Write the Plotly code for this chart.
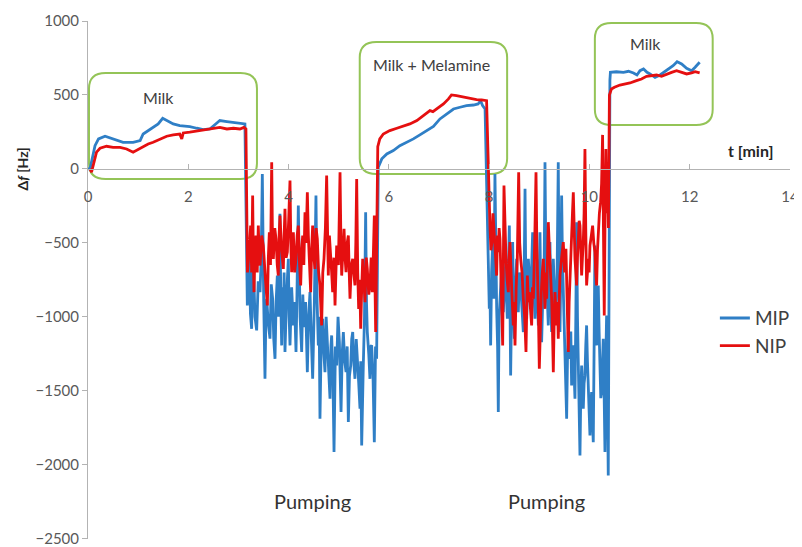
import plotly.graph_objects as go

# ---------------- data ----------------
# MIP (blue) — time [min] and frequency shift [Hz], per phase
mip_t_milk1 = [0, 0.04, 0.14, 0.21, 0.34, 0.47, 0.57, 0.70, 0.90, 1.04, 1.10, 1.20, 1.30, 1.40, 1.49,
               1.57, 1.70, 1.83, 2.03, 2.17, 2.30, 2.43, 2.57, 2.63, 2.77, 2.90, 3.03, 3.13]
mip_v_milk1 = [0, 0, 157, 203, 221, 207, 191, 180, 180, 191, 236, 259, 281, 304, 342,
               327, 304, 293, 286, 275, 266, 270, 311, 327, 320, 315, 311, 304]

mip_t_pump1 = [3.178, 3.198, 3.218, 3.240, 3.264, 3.280, 3.298, 3.330, 3.364, 3.395, 3.431, 3.455,
               3.477, 3.505, 3.530, 3.548, 3.564, 3.598, 3.630, 3.655, 3.683, 3.705, 3.730, 3.752,
               3.776, 3.800, 3.829, 3.846, 3.863, 3.880, 3.896, 3.912, 3.929, 3.962, 3.996, 4.012,
               4.029, 4.062, 4.096, 4.120, 4.149, 4.170, 4.195, 4.230, 4.262, 4.285, 4.308, 4.340,
               4.375, 4.400, 4.428, 4.455, 4.481, 4.515, 4.547, 4.570, 4.594, 4.610, 4.627, 4.655,
               4.681, 4.705, 4.727, 4.750, 4.774, 4.800, 4.827, 4.845, 4.860, 4.885, 4.907, 4.935,
               4.960, 4.987, 5.014, 5.030, 5.047, 5.070, 5.093, 5.120, 5.147, 5.170, 5.193, 5.215,
               5.240, 5.260, 5.280, 5.300, 5.325, 5.350, 5.378, 5.400, 5.425, 5.440, 5.459, 5.475,
               5.491, 5.515, 5.538, 5.555, 5.571, 5.600, 5.624, 5.640, 5.658, 5.685, 5.711, 5.735,
               5.757]
mip_v_pump1 = [-923, -760, -608, -980, -1081, -700, -608, -1000, -1092, -760, -833, -600,
               -34, -900, -1419, -1000, -878, -1050, -1148, -780, -878, -1150, -1284, -900,
               -721, -1000, -304, -900, -1193, -800, -1013, -700, -1238, -850, -608, -1000,
               -1193, -800, -1058, -900, -1238, -800, -248, -1000, -1238, -850, -1070, -900,
               -1374, -1000, -833, -1150, -1419, -900, -180, -900, -1193, -1000, -1689, -1100,
               -1013, -1250, -1374, -1000, -1193, -1300, -1554, -1200, -1126, -1400, -1914, -1200,
               -1329, -1000, -1171, -1400, -1644, -1250, -1103, -1300, -1374, -1200, -1711, -1400,
               -1329, -1150, -1103, -1300, -1419, -1150, -1284, -1450, -1621, -1300, -1869, -1500,
               -1329, -1000, -293, -900, -1103, -1250, -1419, -1200, -1193, -1400, -1847, -1200,
               -1284]

mip_t_melamine = [5.79, 5.86, 5.96, 6.09, 6.22, 6.36, 6.49, 6.62, 6.75, 6.89, 7.02, 7.15, 7.29,
                  7.42, 7.55, 7.69, 7.78, 7.83, 7.87, 7.92]
mip_v_melamine = [11, 68, 101, 124, 157, 180, 203, 230, 259, 288, 338, 372, 405,
                  417, 428, 432, 439, 461, 428, 405]

mip_t_pump2 = [8.004, 8.017, 8.031, 8.050, 8.071, 8.084, 8.097, 8.117, 8.134, 8.151, 8.170, 8.184,
               8.200, 8.217, 8.235, 8.251, 8.268, 8.284, 8.310, 8.337, 8.350, 8.364, 8.384, 8.404,
               8.417, 8.430, 8.450, 8.470, 8.487, 8.504, 8.527, 8.550, 8.567, 8.583, 8.607, 8.630,
               8.657, 8.683, 8.700, 8.717, 8.733, 8.750, 8.767, 8.783, 8.807, 8.830, 8.850, 8.869,
               8.892, 8.916, 8.933, 8.949, 8.965, 8.982, 9.000, 9.015, 9.032, 9.048, 9.065, 9.082,
               9.100, 9.115, 9.132, 9.148, 9.165, 9.181, 9.198, 9.214, 9.230, 9.248, 9.265, 9.281,
               9.307, 9.334, 9.357, 9.380, 9.397, 9.414, 9.430, 9.447, 9.463, 9.480, 9.497, 9.513,
               9.530, 9.547, 9.563, 9.580, 9.597, 9.613, 9.630, 9.646, 9.663, 9.680, 9.697, 9.713,
               9.730, 9.746, 9.763, 9.780, 9.797, 9.813, 9.830, 9.846, 9.862, 9.879, 9.895, 9.912,
               9.928, 9.945, 9.962, 9.979, 9.995, 10.012, 10.028, 10.045, 10.062, 10.078, 10.095,
               10.111, 10.128, 10.145, 10.162, 10.178, 10.195, 10.211, 10.228, 10.244, 10.260,
               10.277, 10.294, 10.311, 10.328, 10.344, 10.360, 10.377]
mip_v_pump2 = [-946, -800, -1193, -700, -495, -750, -878, -34, -700, -946, -1200, -1644,
               -1000, -878, -700, -676, -900, -968, -750, -608, -900, -1013, -700, -383,
               -900, -1396, -900, -495, -900, -1148, -800, -608, -850, -968, -700, -788,
               -950, -1103, -700, -135, -800, -1013, -800, -608, -750, -878, -650, -428,
               -800, -1013, -800, -608, -850, -1058, -750, -428, -900, -1171, -950, -833,
               -600, 45, -600, -788, -900, -1058, -750, -495, -850, -1103, -800, -608,
               -850, -1013, -700, 45, -800, -1103, -700, -180, -600, -833, -1050, -1238,
               -1400, -1689, -1300, -1103, -1200, -1284, -1100, -1464, -1300, -1193, -1400, -1554,
               -1000, -360, -1000, -1396, -1600, -1937, -1500, -1329, -1450, -1621, -1450, -1396,
               -1200, -1058, -1300, -1509, -1650, -1802, -1600, -1509, -1700, -1847, -1200,
               -518, -900, -1193, -1000, -788, -1100, -1396, -1550, -1509, -1300,
               -1148, -1500, -1914, -1300, -991, -1500, -2072]

mip_t_milk2 = [10.41, 10.42, 10.54, 10.68, 10.78, 10.88, 10.95, 11.01, 11.08, 11.15, 11.21, 11.31,
               11.41, 11.48, 11.57, 11.67, 11.75, 11.84, 11.94, 12.04, 12.11, 12.17, 12.20]
mip_v_milk2 = [600, 653, 657, 653, 660, 649, 635, 664, 676, 653, 642, 619,
               635, 653, 676, 698, 725, 710, 680, 664, 687, 709, 721]

# NIP (red)
nip_t_milk1 = [0.04, 0.07, 0.17, 0.24, 0.37, 0.50, 0.64, 0.77, 0.90, 1.00, 1.10, 1.20, 1.30, 1.44,
               1.57, 1.70, 1.83, 1.87, 1.90, 2.03, 2.23, 2.43, 2.63, 2.77, 2.90, 3.03, 3.11, 3.15]
nip_v_milk1 = [0, -22, 113, 140, 153, 146, 146, 135, 113, 131, 153, 169, 180, 203,
               221, 230, 236, 203, 243, 248, 259, 270, 281, 270, 275, 270, 281, 270]

nip_t_pump1 = [3.180, 3.218, 3.244, 3.264, 3.284, 3.298, 3.311, 3.330, 3.351, 3.375, 3.397, 3.415,
               3.431, 3.465, 3.497, 3.540, 3.577, 3.597, 3.617, 3.640, 3.664, 3.680, 3.697, 3.725,
               3.750, 3.775, 3.796, 3.812, 3.829, 3.862, 3.896, 3.912, 3.929, 3.952, 3.976, 4.002,
               4.029, 4.045, 4.062, 4.080, 4.096, 4.122, 4.149, 4.172, 4.195, 4.220, 4.242, 4.262,
               4.282, 4.305, 4.328, 4.350, 4.375, 4.395, 4.415, 4.441, 4.460, 4.481, 4.505, 4.528,
               4.550, 4.574, 4.600, 4.627, 4.660, 4.683, 4.707, 4.735, 4.760, 4.777, 4.793, 4.815,
               4.840, 4.860, 4.880, 4.905, 4.927, 4.945, 4.960, 4.995, 5.027, 5.045, 5.060, 5.085,
               5.107, 5.127, 5.147, 5.170, 5.193, 5.210, 5.226, 5.253, 5.280, 5.300, 5.325, 5.342,
               5.359, 5.380, 5.399, 5.420, 5.439, 5.460, 5.479, 5.500, 5.525, 5.550, 5.571, 5.600,
               5.624, 5.648, 5.671, 5.690, 5.711, 5.725, 5.738]
nip_v_pump1 = [-700, -540, -383, -700, -180, -600, -833, -550, -450, -700, -383, -600,
               -653, -450, -518, -750, -923, -600, -428, -650, 45, -500, -608, -400,
               -473, -650, -721, -450, -315, -550, -676, -450, -270, -600, -563, -350,
               -79, -500, -698, -500, -428, -700, -608, -450, -383, -650, -788, -550,
               -450, -650, -293, -500, -158, -450, -608, -833, -550, -383, -600, -676,
               -400, -473, -700, -788, -1058, -700, -608, -400, -45, -500, -721, -450,
               -563, -700, -833, -600, -923, -700, -518, -650, -22, -500, -721, -550,
               -405, -600, -698, -500, -450, -700, -878, -650, -608, -700, -788, -500,
               -68, -700, -946, -750, -1081, -800, -608, -750, -901, -600, -676, -850,
               -788, -600, -833, -600, -315, -800, -1103]

nip_t_melamine = [5.78, 5.82, 5.89, 6.02, 6.16, 6.29, 6.42, 6.56, 6.65, 6.75, 6.82, 6.88, 6.99,
                  7.09, 7.19, 7.25, 7.35, 7.49, 7.62, 7.75, 7.85, 7.95]
nip_v_melamine = [150, 203, 236, 259, 275, 288, 304, 327, 349, 378, 394, 387, 417,
                  439, 473, 500, 495, 484, 478, 468, 466, 461]

nip_t_pump2 = [8.017, 8.037, 8.057, 8.077, 8.097, 8.125, 8.151, 8.167, 8.184, 8.200, 8.217, 8.235,
               8.251, 8.271, 8.297, 8.317, 8.337, 8.360, 8.384, 8.400, 8.417, 8.450, 8.483, 8.500,
               8.517, 8.540, 8.563, 8.590, 8.610, 8.630, 8.657, 8.683, 8.710, 8.736, 8.750, 8.763,
               8.783, 8.803, 8.826, 8.849, 8.866, 8.883, 8.910, 8.936, 8.952, 8.969, 8.985, 9.002,
               9.022, 9.042, 9.062, 9.082, 9.100, 9.115, 9.130, 9.148, 9.165, 9.181, 9.198, 9.214,
               9.230, 9.248, 9.265, 9.281, 9.300, 9.314, 9.330, 9.347, 9.363, 9.380, 9.397, 9.414,
               9.447, 9.480, 9.507, 9.533, 9.557, 9.580, 9.597, 9.613, 9.630, 9.646, 9.663, 9.680,
               9.697, 9.713, 9.730, 9.746, 9.763, 9.780, 9.797, 9.813, 9.830, 9.846, 9.862, 9.879,
               9.895, 9.912, 9.928, 9.945, 9.962, 9.979, 9.995, 10.012, 10.040, 10.065, 10.088,
               10.111, 10.128, 10.145, 10.162, 10.178, 10.200, 10.224, 10.244, 10.264, 10.280,
               10.297, 10.314, 10.330, 10.347, 10.364, 10.380]
nip_v_pump2 = [-383, -550, -495, -300, -405, -600, -721, -450, -563, -400, -473, -700,
               -878, -1193, -113, -500, -608, -750, -833, -600, -495, -800, -1058, -900,
               -1193, -800, -608, -22, -500, -608, -700, -878, -1000, -1238, -900, -721,
               -900, -833, -950, -1058, -800, -878, -500, -22, -500, -721, -1000, -1351,
               -950, -833, -700, -608, -800, -946, -700, -878, -600, -360, -500, -608,
               -750, -878, -1100, -1374, -1000, -833, -950, -1058, -900, -1148, -900, -721,
               -600, -495, -700, -540, -900, -1238, -900, -721, -550, -405, -300, -158,
               -450, -608, -700, -788, -600, -495, -350, -383, -550, -721, -600, -495,
               -300, 135, -400, -788, -700, -608, -700, -518, -450, -383, -500,
               -563, -700, -788, -550, -383, -300, -225, -100, 230, -500,
               -991, -300, 135, -300, -68, -400]

nip_t_milk2 = [10.40, 10.44, 10.50, 10.61, 10.71, 10.81, 10.94, 11.04, 11.14, 11.24, 11.34, 11.44,
               11.54, 11.64, 11.74, 11.84, 11.94, 12.04, 12.11, 12.20]
nip_v_milk2 = [500, 540, 552, 567, 574, 581, 597, 608, 626, 631, 635, 626,
               642, 653, 664, 653, 642, 649, 657, 649]

x_ticks = [0, 2, 4, 6, 8, 10, 12, 14]
y_ticks = [-2500, -2000, -1500, -1000, -500, 0, 500, 1000]

# annotation boxes (data coords): x0, x1, y0, y1
boxes = [(0.02, 3.37, -68, 649), (5.42, 8.36, -34, 858), (10.11, 12.46, 297, 986)]
box_labels = [("Milk", 1.40, 486), ("Milk + Melamine", 6.86, 703), ("Milk", 11.11, 851)]
phase_labels = [("Pumping", 4.47, -2243), ("Pumping", 9.15, -2243)]

t_mip = mip_t_milk1 + mip_t_pump1 + mip_t_melamine + mip_t_pump2 + mip_t_milk2
mip = mip_v_milk1 + mip_v_pump1 + mip_v_melamine + mip_v_pump2 + mip_v_milk2
t_nip = nip_t_milk1 + nip_t_pump1 + nip_t_melamine + nip_t_pump2 + nip_t_milk2
nip = nip_v_milk1 + nip_v_pump1 + nip_v_melamine + nip_v_pump2 + nip_v_milk2

FONT = "Lato, 'Open Sans', sans-serif"
BLUE = "#2f7fc6"
RED = "#e50f10"
GREEN = "#94c457"

fig = go.Figure()
fig.add_trace(go.Scatter(x=t_mip, y=mip, mode="lines", name="MIP", legendgroup="a",
                         line=dict(color=BLUE, width=2.8)))
fig.add_trace(go.Scatter(x=t_nip, y=nip, mode="lines", name="NIP", legendgroup="b",
                         line=dict(color=RED, width=2.8)))


def rounded(x0, x1, y0, y1, rx=0.33, ry=105):
    return (f"M {x0+rx},{y1} L {x1-rx},{y1} Q {x1},{y1} {x1},{y1-ry} "
            f"L {x1},{y0+ry} Q {x1},{y0} {x1-rx},{y0} "
            f"L {x0+rx},{y0} Q {x0},{y0} {x0},{y0+ry} "
            f"L {x0},{y1-ry} Q {x0},{y1} {x0+rx},{y1} Z")


for (x0, x1, y0, y1) in boxes:
    fig.add_shape(type="path", path=rounded(x0, x1, y0, y1), xref="x", yref="y",
                  line=dict(color=GREEN, width=2), layer="below")

for txt, x, y in box_labels:
    fig.add_annotation(x=x, y=y, text=txt, showarrow=False,
                       font=dict(family=FONT, size=16, color="#404040"))
for txt, x, y in phase_labels:
    fig.add_annotation(x=x, y=y, text=txt, showarrow=False,
                       font=dict(family=FONT, size=20, color="#333333"))

fig.add_annotation(x=13.22, y=122, text="<b>t [min]</b>", showarrow=False,
                   font=dict(family=FONT, size=16, color="#262626"))
fig.add_annotation(xref="paper", x=-0.108, y=0, text="<b>Δ<i>f</i> [Hz]</b>", textangle=-90,
                   showarrow=False, font=dict(family=FONT, size=14, color="#262626"))

fig.update_layout(
    width=794, height=539,
    margin=dict(l=80, r=12, t=13, b=8, autoexpand=False),
    plot_bgcolor="white", paper_bgcolor="white",
    font=dict(family=FONT, size=15, color="#595959"),
    showlegend=True,
    legend=dict(x=0.893, y=0.463, xanchor="left", yanchor="top",
                font=dict(family=FONT, size=19, color="#404040"),
                tracegroupgap=0, itemwidth=30, bgcolor="rgba(0,0,0,0)"),
    xaxis=dict(range=[0, 14.002], tickvals=x_ticks, showgrid=False, zeroline=False,
               anchor="free", position=2502 / 3502, showline=True, linecolor="#b3b3b3",
               linewidth=1, ticks="inside", ticklen=5, tickcolor="#b3b3b3",
               ticklabelstandoff=14,
               tickfont=dict(family=FONT, size=15, color="#595959")),
    yaxis=dict(range=[-2502, 1000], tickvals=y_ticks, showgrid=False, zeroline=False,
               showline=True, linecolor="#b3b3b3", linewidth=1, ticks="outside",
               ticklen=5, tickcolor="#b3b3b3",
               tickfont=dict(family=FONT, size=15, color="#595959")),
)

fig.write_html("out.html")
